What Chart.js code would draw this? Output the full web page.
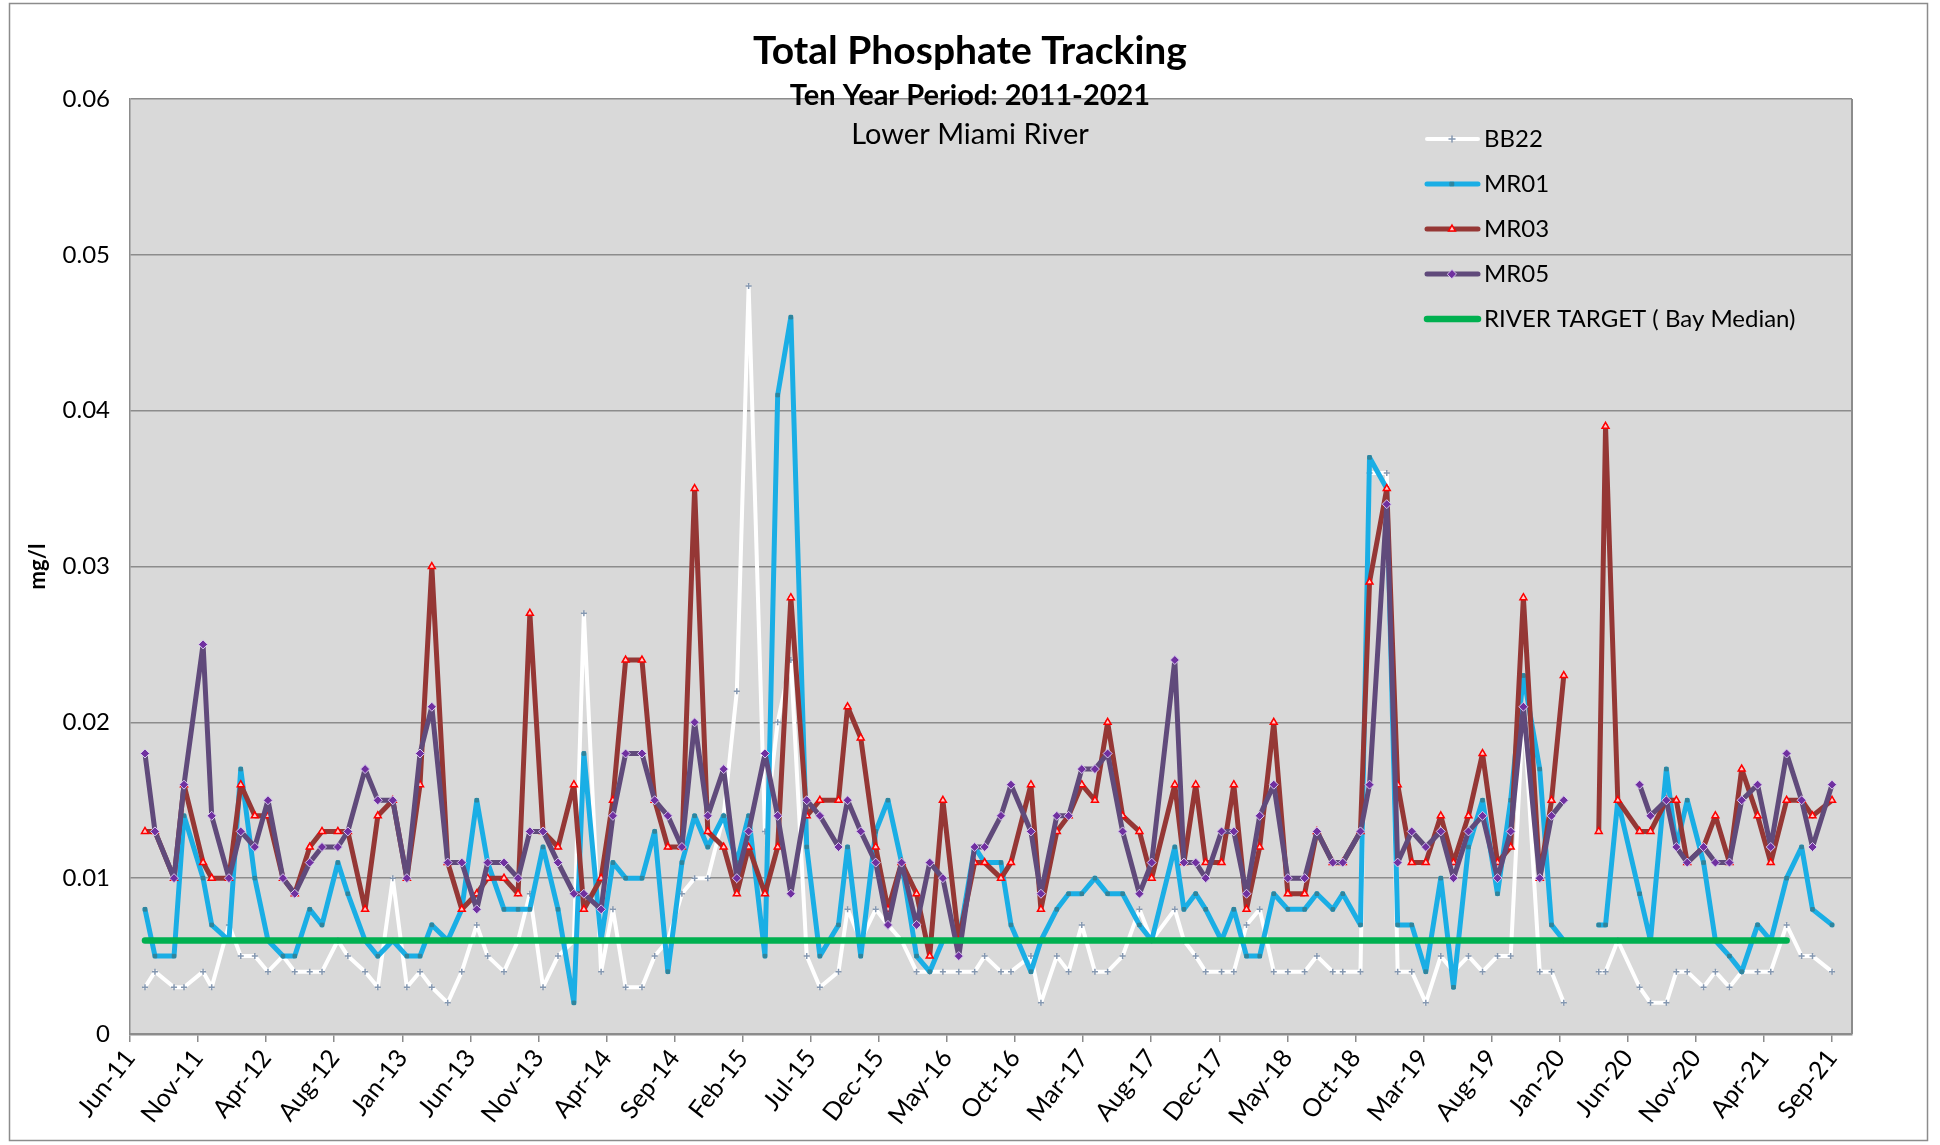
<!DOCTYPE html>
<html>
<head>
<meta charset="utf-8">
<title>Total Phosphate Tracking</title>
<script src="https://cdn.jsdelivr.net/npm/chart.js@4.4.1/dist/chart.umd.min.js"></script>
<style>
  html, body { margin: 0; padding: 0; background: #ffffff; }
  #wrap { position: relative; width: 1940px; height: 1145px; }
</style>
</head>
<body>
<div id="wrap"><canvas id="chart" width="1940" height="1145"></canvas></div>
<script>
// ---- data (mg/l) ----
const axisStart = '2011-06-06';
const tickStepDays = 150;
const tickLabels = ['Jun-11', 'Nov-11', 'Apr-12', 'Aug-12', 'Jan-13', 'Jun-13', 'Nov-13', 'Apr-14', 'Sep-14',
  'Feb-15', 'Jul-15', 'Dec-15', 'May-16', 'Oct-16', 'Mar-17', 'Aug-17', 'Dec-17', 'May-18', 'Oct-18',
  'Mar-19', 'Aug-19', 'Jan-20', 'Jun-20', 'Nov-20', 'Apr-21', 'Sep-21'];

const sampleDates = [
  '2011-07-09', '2011-07-31', '2011-09-11', '2011-10-03', '2011-11-14', '2011-12-03', '2012-01-10', '2012-02-05',
  '2012-03-07', '2012-04-05', '2012-05-08', '2012-06-03', '2012-07-06', '2012-08-02', '2012-09-06', '2012-09-28',
  '2012-11-05', '2012-12-03', '2013-01-05', '2013-02-05', '2013-03-06', '2013-04-01', '2013-05-06', '2013-06-06',
  '2013-07-09', '2013-08-02', '2013-09-07', '2013-10-08', '2013-11-03', '2013-12-02', '2014-01-04', '2014-02-08',
  '2014-03-02', '2014-04-09', '2014-05-05', '2014-06-02', '2014-07-08', '2014-08-05', '2014-09-03', '2014-10-04',
  '2014-11-01', '2014-11-30', '2015-01-04', '2015-02-02', '2015-02-28', '2015-04-05', '2015-05-03', '2015-06-01',
  '2015-07-06', '2015-08-04', '2015-09-14', '2015-10-04', '2015-11-02', '2015-12-05', '2016-01-01', '2016-01-31',
  '2016-03-04', '2016-04-02', '2016-05-01', '2016-06-05', '2016-07-10', '2016-08-01', '2016-09-06', '2016-09-28',
  '2016-11-11', '2016-12-03', '2017-01-07', '2017-02-02', '2017-03-03', '2017-04-01', '2017-04-29', '2017-06-01',
  '2017-07-08', '2017-08-04', '2017-09-24', '2017-10-14', '2017-11-09', '2017-12-01', '2018-01-05', '2018-02-01',
  '2018-03-01', '2018-03-30', '2018-04-30', '2018-05-31', '2018-07-07', '2018-08-03', '2018-09-07', '2018-09-29',
  '2018-11-07', '2018-11-27', '2019-01-04', '2019-01-28', '2019-02-28', '2019-03-31', '2019-05-03', '2019-05-31',
  '2019-07-03', '2019-08-03', '2019-09-05', '2019-10-04', '2019-11-01', '2019-12-07', '2020-01-02', '2020-01-29',
  '2020-03-04', '2020-04-15', '2020-04-30', '2020-05-27', '2020-07-14', '2020-08-07', '2020-09-11', '2020-10-03',
  '2020-10-27', '2020-12-02', '2020-12-28', '2021-01-28', '2021-02-24', '2021-03-31', '2021-04-29', '2021-06-03',
  '2021-07-06', '2021-07-30', '2021-09-11'
];

const bb22 = [
  0.003, 0.004, 0.003, 0.003, 0.004, 0.003, 0.007, 0.005, 0.005, 0.004,
  0.005, 0.004, 0.004, 0.004, 0.006, 0.005, 0.004, 0.003, 0.010, 0.003,
  0.004, 0.003, 0.002, 0.004, 0.007, 0.005, 0.004, 0.006, 0.009, 0.003,
  0.005, 0.006, 0.027, 0.004, 0.008, 0.003, 0.003, 0.005, 0.006, 0.009,
  0.010, 0.010, 0.014, 0.022, 0.048, 0.013, 0.020, 0.024, 0.005, 0.003,
  0.004, 0.008, 0.006, 0.008, 0.007, 0.006, 0.004, 0.004, 0.004, 0.004,
  0.004, 0.005, 0.004, 0.004, 0.005, 0.002, 0.005, 0.004, 0.007, 0.004,
  0.004, 0.005, 0.008, 0.006, 0.008, 0.006, 0.005, 0.004, 0.004, 0.004,
  0.007, 0.008, 0.004, 0.004, 0.004, 0.005, 0.004, 0.004, 0.004, 0.036,
  0.036, 0.004, 0.004, 0.002, 0.005, 0.004, 0.005, 0.004, 0.005, 0.005,
  0.021, 0.004, 0.004, 0.002, null, 0.004, 0.004, 0.006, 0.003, 0.002,
  0.002, 0.004, 0.004, 0.003, 0.004, 0.003, 0.004, 0.004, 0.004, 0.007,
  0.005, 0.005, 0.004
];

const mr01 = [
  0.008, 0.005, 0.005, 0.014, 0.010, 0.007, 0.006, 0.017, 0.010, 0.006,
  0.005, 0.005, 0.008, 0.007, 0.011, 0.009, 0.006, 0.005, 0.006, 0.005,
  0.005, 0.007, 0.006, 0.008, 0.015, 0.011, 0.008, 0.008, 0.008, 0.012,
  0.008, 0.002, 0.018, 0.006, 0.011, 0.010, 0.010, 0.013, 0.004, 0.011,
  0.014, 0.012, 0.014, 0.011, 0.014, 0.005, 0.041, 0.046, 0.012, 0.005,
  0.007, 0.012, 0.005, 0.013, 0.015, 0.011, 0.005, 0.004, 0.006, 0.006,
  0.012, 0.011, 0.011, 0.007, 0.004, 0.006, 0.008, 0.009, 0.009, 0.010,
  0.009, 0.009, 0.007, 0.006, 0.012, 0.008, 0.009, 0.008, 0.006, 0.008,
  0.005, 0.005, 0.009, 0.008, 0.008, 0.009, 0.008, 0.009, 0.007, 0.037,
  0.035, 0.007, 0.007, 0.004, 0.010, 0.003, 0.012, 0.015, 0.009, 0.015,
  0.023, 0.017, 0.007, 0.006, null, 0.007, 0.007, 0.015, 0.009, 0.006,
  0.017, 0.012, 0.015, 0.011, 0.006, 0.005, 0.004, 0.007, 0.006, 0.010,
  0.012, 0.008, 0.007
];

const mr03 = [
  0.013, 0.013, 0.010, 0.016, 0.011, 0.010, 0.010, 0.016, 0.014, 0.014,
  0.010, 0.009, 0.012, 0.013, 0.013, 0.013, 0.008, 0.014, 0.015, 0.010,
  0.016, 0.030, 0.011, 0.008, 0.009, 0.010, 0.010, 0.009, 0.027, 0.013,
  0.012, 0.016, 0.008, 0.010, 0.015, 0.024, 0.024, 0.015, 0.012, 0.012,
  0.035, 0.013, 0.012, 0.009, 0.012, 0.009, 0.012, 0.028, 0.014, 0.015,
  0.015, 0.021, 0.019, 0.012, 0.008, 0.011, 0.009, 0.005, 0.015, 0.006,
  0.011, 0.011, 0.010, 0.011, 0.016, 0.008, 0.013, 0.014, 0.016, 0.015,
  0.020, 0.014, 0.013, 0.010, 0.016, 0.011, 0.016, 0.011, 0.011, 0.016,
  0.008, 0.012, 0.020, 0.009, 0.009, 0.013, 0.011, 0.011, 0.013, 0.029,
  0.035, 0.016, 0.011, 0.011, 0.014, 0.011, 0.014, 0.018, 0.011, 0.012,
  0.028, 0.010, 0.015, 0.023, null, 0.013, 0.039, 0.015, 0.013, 0.013,
  0.015, 0.015, 0.011, 0.012, 0.014, 0.011, 0.017, 0.014, 0.011, 0.015,
  0.015, 0.014, 0.015
];

const mr05 = [
  0.018, 0.013, 0.010, 0.016, 0.025, 0.014, 0.010, 0.013, 0.012, 0.015,
  0.010, 0.009, 0.011, 0.012, 0.012, 0.013, 0.017, 0.015, 0.015, 0.010,
  0.018, 0.021, 0.011, 0.011, 0.008, 0.011, 0.011, 0.010, 0.013, 0.013,
  0.011, 0.009, 0.009, 0.008, 0.014, 0.018, 0.018, 0.015, 0.014, 0.012,
  0.020, 0.014, 0.017, 0.010, 0.013, 0.018, 0.014, 0.009, 0.015, 0.014,
  0.012, 0.015, 0.013, 0.011, 0.007, 0.011, 0.007, 0.011, 0.010, 0.005,
  0.012, 0.012, 0.014, 0.016, 0.013, 0.009, 0.014, 0.014, 0.017, 0.017,
  0.018, 0.013, 0.009, 0.011, 0.024, 0.011, 0.011, 0.010, 0.013, 0.013,
  0.009, 0.014, 0.016, 0.010, 0.010, 0.013, 0.011, 0.011, 0.013, 0.016,
  0.034, 0.011, 0.013, 0.012, 0.013, 0.010, 0.013, 0.014, 0.010, 0.013,
  0.021, 0.010, 0.014, 0.015, null, null, null, null, 0.016, 0.014,
  0.015, 0.012, 0.011, 0.012, 0.011, 0.011, 0.015, 0.016, 0.012, 0.018,
  0.015, 0.012, 0.016
];

// bay median target, carried through June 2021
const riverTarget = sampleDates.map(d => (d <= '2021-06-03' ? 0.006 : null));

// ---- chart ----
const FONT = 'Lato, "Open Sans", sans-serif';
const dayOf = d => (Date.parse(d) - Date.parse(axisStart)) / 86400000;
const toPoints = vals => sampleDates.map((d, i) => ({ x: dayOf(d), y: vals[i] }));

const lineBase = {
  fill: false,
  tension: 0,
  spanGaps: false,
  borderJoinStyle: 'round',
  borderCapStyle: 'round'
};

const datasets = [
  Object.assign({}, lineBase, {
    label: 'RIVER TARGET ( Bay Median)',
    data: toPoints(riverTarget),
    borderColor: '#00b050',
    borderWidth: 6.5,
    pointRadius: 0,
    order: 0
  }),
  Object.assign({}, lineBase, {
    label: 'MR05',
    data: toPoints(mr05),
    borderColor: '#604a7b',
    borderWidth: 5,
    pointStyle: 'rectRot',
    pointRadius: 4.5,
    pointBackgroundColor: '#7030a0',
    pointBorderColor: '#d8c8ee',
    pointBorderWidth: 1,
    order: 1
  }),
  Object.assign({}, lineBase, {
    label: 'MR03',
    data: toPoints(mr03),
    borderColor: '#953735',
    borderWidth: 5,
    pointStyle: 'triangle',
    pointRadius: 4,
    pointBackgroundColor: '#ffc9c9',
    pointBorderColor: '#ff0000',
    pointBorderWidth: 1.5,
    order: 2
  }),
  Object.assign({}, lineBase, {
    label: 'MR01',
    data: toPoints(mr01),
    borderColor: '#1aaee5',
    borderWidth: 5,
    pointStyle: 'rect',
    pointRadius: 2.5,
    pointBackgroundColor: '#31849b',
    pointBorderColor: '#31849b',
    pointBorderWidth: 1,
    order: 3
  }),
  Object.assign({}, lineBase, {
    label: 'BB22',
    data: toPoints(bb22),
    borderColor: '#ffffff',
    borderWidth: 4,
    pointStyle: 'cross',
    pointRadius: 3,
    pointBackgroundColor: '#8497b0',
    pointBorderColor: '#8497b0',
    pointBorderWidth: 1.5,
    order: 4
  })
];

// background, frame and the three title lines
const framePlugin = {
  id: 'frame',
  beforeDraw(chart) {
    const { ctx, chartArea: a } = chart;
    ctx.save();
    ctx.fillStyle = '#ffffff';
    ctx.fillRect(0, 0, chart.width, chart.height);
    ctx.strokeStyle = '#8c8c8c';
    ctx.lineWidth = 1.5;
    ctx.strokeRect(9.5, 3.5, 1918, 1137);
    ctx.fillStyle = '#d9d9d9';
    ctx.fillRect(a.left, a.top, a.right - a.left, a.bottom - a.top);
    ctx.restore();
  },
  beforeDatasetsDraw(chart) {
    const { ctx, chartArea: a } = chart;
    ctx.save();
    ctx.strokeStyle = '#8c8c8c';
    ctx.lineWidth = 2;
    ctx.beginPath();
    ctx.moveTo(a.right, a.top);
    ctx.lineTo(a.right, a.bottom);
    ctx.stroke();
    ctx.restore();
  },
  afterDraw(chart) {
    const ctx = chart.ctx;
    const cx = chart.width / 2;
    ctx.save();
    ctx.fillStyle = '#000000';
    ctx.textAlign = 'center';
    ctx.textBaseline = 'middle';
    ctx.font = 'bold 39px ' + FONT;
    ctx.fillText('Total Phosphate Tracking', cx, 51);
    ctx.font = 'bold 29px ' + FONT;
    ctx.fillText('Ten Year Period: 2011-2021', cx, 96);
    ctx.font = '29px ' + FONT;
    ctx.fillText('Lower Miami River', cx, 135);
    ctx.restore();
  }
};

// legend drawn inside the plot area, upper right
const insideLegend = {
  id: 'insideLegend',
  afterDatasetsDraw(chart) {
    const ctx = chart.ctx;
    const items = chart.data.datasets.slice().sort((a, b) => b.order - a.order);
    const drawPoint = Chart.helpers && Chart.helpers.drawPoint;
    ctx.save();
    items.forEach((ds, i) => {
      const y = 139 + i * 45;
      ctx.strokeStyle = ds.borderColor;
      ctx.lineWidth = ds.borderWidth;
      ctx.lineCap = 'round';
      ctx.beginPath();
      ctx.moveTo(1427, y);
      ctx.lineTo(1478, y);
      ctx.stroke();
      if (ds.pointRadius > 0 && drawPoint) {
        ctx.fillStyle = ds.pointBackgroundColor;
        ctx.strokeStyle = ds.pointBorderColor;
        ctx.lineWidth = ds.pointBorderWidth;
        drawPoint(ctx, { pointStyle: ds.pointStyle, radius: ds.pointRadius, rotation: 0, borderWidth: ds.pointBorderWidth }, 1452, y);
      }
      ctx.fillStyle = '#000000';
      ctx.font = '24px ' + FONT;
      ctx.textAlign = 'left';
      ctx.textBaseline = 'middle';
      ctx.fillText(ds.label, 1484, y);
    });
    ctx.restore();
  }
};

new Chart(document.getElementById('chart'), {
  type: 'line',
  data: { datasets: datasets },
  plugins: [framePlugin, insideLegend],
  options: {
    responsive: false,
    animation: false,
    devicePixelRatio: 1,
    layout: { padding: { top: 99, right: 88, bottom: 0, left: 0 } },
    plugins: {
      legend: { display: false },
      title: { display: false },
      tooltip: { enabled: false }
    },
    scales: {
      x: {
        type: 'linear',
        min: 0,
        max: 3794,
        afterBuildTicks: scale => {
          scale.ticks = tickLabels.map((t, i) => ({ value: i * tickStepDays }));
        },
        afterFit: scale => { scale.height = 111; },
        ticks: {
          autoSkip: false,
          minRotation: 52,
          maxRotation: 52,
          padding: 2,
          color: '#000000',
          font: { family: FONT, size: 25 },
          callback: (value, index) => tickLabels[index]
        },
        grid: {
          drawOnChartArea: false,
          drawTicks: true,
          tickLength: 8,
          color: '#8c8c8c',
          lineWidth: 1.5
        },
        border: { display: true, color: '#8c8c8c', width: 2.5 }
      },
      y: {
        min: 0,
        max: 0.06,
        afterFit: scale => { scale.width = 130; },
        ticks: {
          stepSize: 0.01,
          padding: 20,
          color: '#000000',
          font: { family: FONT, size: 24 },
          callback: v => (v === 0 ? '0' : v.toFixed(2))
        },
        grid: { color: '#8c8c8c', lineWidth: 1.5, drawTicks: false },
        border: { display: true, color: '#8c8c8c', width: 1.5 },
        title: {
          display: true,
          text: 'mg/l',
          color: '#000000',
          font: { family: FONT, size: 22, weight: 'bold' },
          padding: { top: 25, bottom: 0 }
        }
      }
    }
  }
});
</script>
</body>
</html>
